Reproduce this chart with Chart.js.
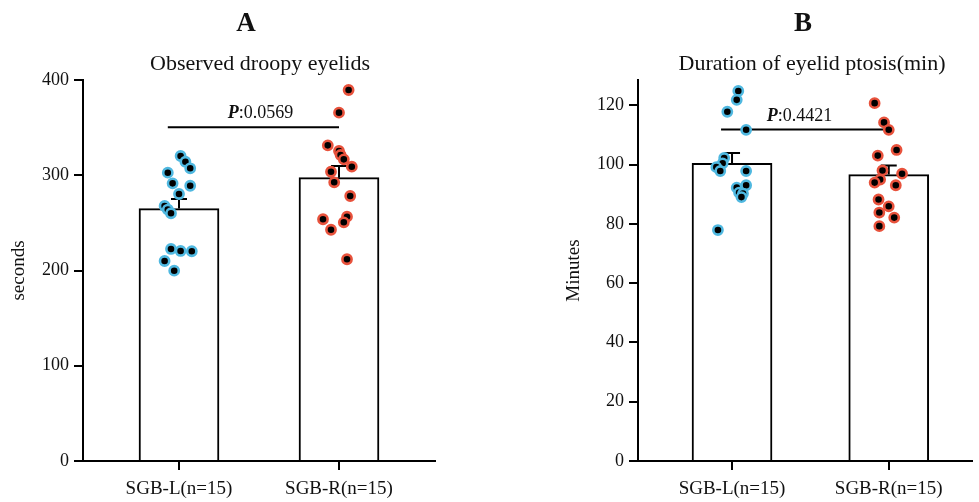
<!DOCTYPE html>
<html>
<head>
<meta charset="utf-8">
<script src="https://cdn.jsdelivr.net/npm/chart.js@4.4.1/dist/chart.umd.min.js"></script>
<style>
  body { margin: 0; background: #fff; }
  .panel { position: absolute; top: 0; }
</style>
</head>
<body>
<div class="panel" style="left:0"><canvas id="chartA" width="490" height="502"></canvas></div>
<div class="panel" style="left:490px"><canvas id="chartB" width="489" height="502"></canvas></div>
<script>
const groups = ['SGB-L(n=15)', 'SGB-R(n=15)'];

// A - observed droopy eyelids (seconds)
const secLeft = [320.2, 314.2, 307.3, 302.7, 291.5, 289.0, 280.3, 267.7, 264.0, 260.1, 222.6, 220.5, 220.2, 210.0, 199.8];
const secLeftJitter = [0.01, 0.04, 0.07, -0.07, -0.04, 0.07, 0.0, -0.09, -0.07, -0.05, -0.05, 0.01, 0.08, -0.09, -0.03];
const secRight = [389.5, 365.7, 331.4, 325.5, 321.3, 316.7, 309.0, 303.7, 292.6, 278.2, 256.5, 253.8, 250.6, 242.8, 211.8];
const secRightJitter = [0.06, 0.0, -0.07, 0.0, 0.01, 0.03, 0.08, -0.05, -0.03, 0.07, 0.05, -0.1, 0.03, -0.05, 0.05];
const secMeans = [265.0, 297.5];
const secSem = [10.0, 12.3];
const secP = 350.5;

// B - duration of eyelid ptosis (minutes)
const minLeft = [124.8, 121.8, 117.8, 111.7, 102.2, 100.4, 99.1, 97.8, 97.8, 93.0, 92.2, 90.5, 90.2, 89.0, 77.9];
const minLeftJitter = [0.04, 0.03, -0.03, 0.09, -0.05, -0.06, -0.1, -0.075, 0.09, 0.09, 0.03, 0.045, 0.07, 0.06, -0.09];
const minRight = [120.7, 114.2, 111.7, 104.9, 103.0, 98.0, 96.9, 94.9, 93.9, 93.0, 88.2, 85.9, 83.8, 82.1, 79.2];
const minRightJitter = [-0.09, -0.03, 0.0, 0.05, -0.07, -0.04, 0.085, -0.055, -0.09, 0.045, -0.065, 0.0, -0.06, 0.035, -0.06];
const minMeans = [100.4, 96.6];
const minSem = [3.5, 3.1];
const minP = 111.8;

const SERIF = "'Liberation Serif', 'Times New Roman', serif";
const BLUE = '#4fb8e0';
const RED = '#e8523c';

function toPoints(values, jitter, group) {
    return values.map((v, i) => ({ x: group + jitter[i], y: v }));
}

// upper error whisker, drawn right after the bars so the dots sit on top
const errorBars = {
    id: 'errorBars',
    afterDatasetDraw(chart, args) {
        if (args.meta.type !== 'bar') return;
        const ds = chart.data.datasets[args.index];
        const ctx = chart.ctx, xs = chart.scales.x, ys = chart.scales.y;
        ctx.save();
        ctx.strokeStyle = '#000';
        ctx.lineWidth = 2;
        ds.data.forEach((d, i) => {
            const px = xs.getPixelForValue(d.x);
            const y0 = ys.getPixelForValue(d.y);
            const y1 = ys.getPixelForValue(d.y + ds.sem[i]);
            ctx.beginPath();
            ctx.moveTo(px, y0);
            ctx.lineTo(px, y1);
            ctx.moveTo(px - 8, y1);
            ctx.lineTo(px + 8, y1);
            ctx.stroke();
        });
        ctx.restore();
    }
};

const panelText = {
    id: 'panelText',
    afterDraw(chart, args, opts) {
        const ctx = chart.ctx;
        ctx.save();
        ctx.fillStyle = '#111';
        ctx.textAlign = 'center';
        ctx.textBaseline = 'middle';
        ctx.font = 'bold 27px ' + SERIF;
        ctx.fillText(opts.letter, opts.letterX, 24);
        ctx.font = '22px ' + SERIF;
        ctx.fillText(opts.title, opts.titleX, 64);

        // P value above the comparison line
        const xs = chart.scales.x, ys = chart.scales.y;
        const cx = xs.getPixelForValue(opts.pTextAt);
        const by = ys.getPixelForValue(opts.pLine) - 9;
        ctx.textBaseline = 'alphabetic';
        ctx.textAlign = 'left';
        ctx.font = 'bold italic 18px ' + SERIF;
        const wP = ctx.measureText('P').width;
        ctx.font = '18px ' + SERIF;
        const wV = ctx.measureText(opts.pText).width;
        const x0 = cx - (wP + wV) / 2;
        ctx.font = 'bold italic 18px ' + SERIF;
        ctx.fillText('P', x0, by);
        ctx.font = '18px ' + SERIF;
        ctx.fillText(opts.pText, x0 + wP, by);
        ctx.restore();
    }
};

function makePanel(id, p) {
    return new Chart(document.getElementById(id), {
        data: {
            datasets: [
                {
                    type: 'bar',
                    data: [{ x: 0, y: p.means[0] }, { x: 1, y: p.means[1] }],
                    sem: p.sem,
                    backgroundColor: '#fff',
                    borderColor: '#000',
                    borderWidth: 2,
                    barThickness: 80,
                    order: 3
                },
                {
                    type: 'line',
                    data: [{ x: -0.07, y: p.pLine }, { x: 1, y: p.pLine }],
                    borderColor: '#000',
                    borderWidth: 2,
                    pointRadius: 0,
                    order: 2
                },
                {
                    type: 'scatter',
                    data: toPoints(p.left, p.leftJitter, 0),
                    backgroundColor: '#000',
                    borderColor: BLUE,
                    borderWidth: 2.6,
                    pointRadius: 4.6,
                    order: 1
                },
                {
                    type: 'scatter',
                    data: toPoints(p.right, p.rightJitter, 1),
                    backgroundColor: '#000',
                    borderColor: RED,
                    borderWidth: 2.6,
                    pointRadius: 4.6,
                    order: 1
                }
            ]
        },
        options: {
            responsive: false,
            animation: false,
            clip: false,
            layout: { padding: { left: p.padLeft, right: p.padRight, top: 80, bottom: 0 } },
            plugins: {
                legend: { display: false },
                tooltip: { enabled: false },
                panelText: Object.assign({ pLine: p.pLine }, p.text)
            },
            scales: {
                x: {
                    type: 'linear',
                    offset: false,
                    min: -0.6,
                    max: p.xMax,
                    afterBuildTicks: s => { s.ticks = [{ value: 0 }, { value: 1 }]; },
                    afterFit: s => { s.height = 41; },
                    ticks: {
                        callback: v => groups[v],
                        font: { family: SERIF, size: 19 },
                        color: '#111',
                        padding: 8,
                        maxRotation: 0,
                        autoSkip: false
                    },
                    grid: { offset: false, drawOnChartArea: false, color: '#000', lineWidth: 2, tickLength: 9 },
                    border: { color: '#000', width: 2 }
                },
                y: {
                    min: 0,
                    max: p.yMax,
                    afterBuildTicks: s => { s.ticks = s.ticks.filter(t => t.value % p.step === 0); },
                    afterFit: s => { s.width = 83; },
                    ticks: {
                        stepSize: p.step,
                        font: { family: SERIF, size: 18 },
                        color: '#111',
                        padding: 5
                    },
                    grid: { drawOnChartArea: false, color: '#000', lineWidth: 2, tickLength: 9 },
                    border: { color: '#000', width: 2 },
                    title: {
                        display: true,
                        text: p.yTitle,
                        font: { family: SERIF, size: 19 },
                        color: '#111',
                        padding: { top: 8, bottom: 4 }
                    }
                }
            }
        },
        plugins: [errorBars, panelText]
    });
}

makePanel('chartA', {
    left: secLeft, leftJitter: secLeftJitter,
    right: secRight, rightJitter: secRightJitter,
    means: secMeans, sem: secSem, pLine: secP,
    yMax: 400, step: 100, yTitle: 'seconds',
    xMax: 1.6, padLeft: 0, padRight: 55,
    text: { letter: 'A', letterX: 246, title: 'Observed droopy eyelids', titleX: 260, pText: ':0.0569', pTextAt: 0.51 }
});

makePanel('chartB', {
    left: minLeft, leftJitter: minLeftJitter,
    right: minRight, rightJitter: minRightJitter,
    means: minMeans, sem: minSem, pLine: minP,
    yMax: 128.5, step: 20, yTitle: 'Minutes',
    xMax: 1.53, padLeft: 65, padRight: 0,
    text: { letter: 'B', letterX: 313, title: 'Duration of eyelid ptosis(min)', titleX: 322, pText: ':0.4421', pTextAt: 0.43 }
});
</script>
</body>
</html>
